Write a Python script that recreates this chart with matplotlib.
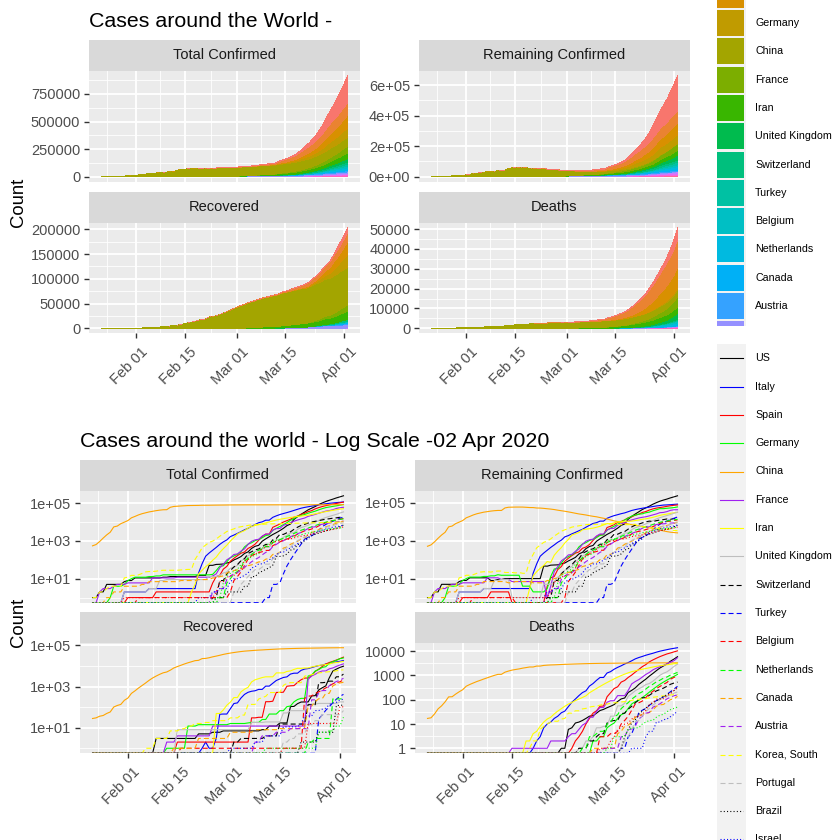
import datetime as dt
import numpy as np
import matplotlib
matplotlib.use("Agg")
import matplotlib.pyplot as plt
import matplotlib.dates as mdates
from matplotlib.patches import Rectangle
from matplotlib.ticker import FixedLocator, FuncFormatter, NullFormatter
from matplotlib.transforms import ScaledTranslation, blended_transform_factory

plt.rcParams['font.family'] = ['Liberation Sans', 'DejaVu Sans']
plt.rcParams['lines.scale_dashes'] = False

# ---------------- data (daily, 2020-01-22 .. 2020-04-02; lists end on Apr 2, earlier days are 0) -------------
START = dt.datetime(2020, 1, 22)
N_DAYS = 72

countries = ["US", "Italy", "Spain", "Germany", "China", "France", "Iran", "United Kingdom",
             "Switzerland", "Turkey", "Belgium", "Netherlands", "Canada", "Austria",
             "Korea, South", "Portugal", "Brazil", "Israel", "Sweden", "Norway"]

US_conf = [1, 1, 2, 2, 5, 5, 5, 5, 5, 7] + [8, 8, 11, 11, 11, 11, 11, 11, 11, 11, 12, 12, 13, 13, 13, 13, 13, 13, 13, 13, 15, 15, 15, 51, 51, 57, 58, 60, 68] + [74, 98, 118, 149, 217, 262, 402, 518, 583, 959, 1281, 1663, 2179, 2727, 3499, 4632, 6421, 7783, 13677, 19100, 25489, 33276, 43847, 53740, 65778, 83836, 101657, 121478, 140886, 161807, 188172] + [213372, 243453]
US_rec = [3]*12 + [5, 5, 5, 5, 6, 6, 6, 7, 7] + [7]*9 + [8, 8, 12, 12, 12, 17, 17, 17, 106, 108, 147, 176, 178, 178, 348, 361, 681, 869, 1072, 2665, 5644, 7024] + [8474, 9707]
US_death = [1] + [1, 6, 7, 11, 12, 14, 17, 21, 22, 28, 36, 40, 47, 54, 63, 85, 108, 118, 200, 244, 307, 427, 552, 706, 942, 1209, 1581, 2026, 2467, 2978, 3873] + [4757, 5926]

Italy_conf = [2] + [2]*6 + [3]*14 + [20, 62, 155, 229, 322, 453, 655, 888, 1128] + [1694, 2036, 2502, 3089, 3858, 4636, 5883, 7375, 9172, 10149, 12462, 12462, 17660, 21157, 24747, 27980, 31506, 35713, 41035, 47021, 53578, 59138, 63927, 69176, 74386, 80589, 86498, 92472, 97689, 101739, 105792] + [110574, 115242]
Italy_rec = [1, 2, 1, 1, 3, 45, 46, 46] + [83, 149, 160, 276, 414, 523, 589, 622, 724, 724, 1045, 1045, 1439, 1966, 2335, 2749, 2941, 4025, 4440, 4440, 6072, 7024, 7432, 8326, 9362, 10361, 10950, 12384, 13030, 14620, 15729] + [16847, 18278]
Italy_death = [1, 2, 3, 7, 10, 12, 17, 21, 29] + [34, 52, 79, 107, 148, 197, 233, 366, 463, 631, 827, 827, 1266, 1441, 1809, 2158, 2503, 2978, 3405, 4032, 4825, 5476, 6077, 6820, 7503, 8215, 9134, 10023, 10779, 11591, 12428] + [13155, 13915]

Spain_conf = [1]*8 + [2]*16 + [6, 13, 15, 32, 45] + [84, 120, 165, 222, 259, 400, 500, 673, 1073, 1695, 2277, 2277, 5232, 6391, 7798, 9942, 11748, 13910, 17963, 20410, 25374, 28768, 35136, 39885, 49515, 57786, 65719, 73235, 80110, 87956, 95923] + [104118, 112065]
Spain_rec = [2]*15 + [2, 2, 2, 2, 2, 2, 30, 30, 32, 32, 183, 183, 193, 517, 517, 530, 1028, 1081, 1107, 1588, 2125, 2575, 2575, 3355, 5367, 7015, 9357, 12285, 14709, 16780, 19259] + [22647, 26743]
Spain_death = [1, 2, 3, 5, 10, 17, 28, 35, 54, 55, 133, 195, 289, 342, 533, 623, 830, 1043, 1375, 1772, 2311, 2808, 3647, 4365, 5138, 5982, 6803, 7716, 8464] + [9387, 10348]

Germany_conf = [1, 4, 4, 4, 5] + [8, 10, 12, 12, 12, 12, 13, 13, 14, 14] + [16]*14 + [17, 27, 46, 48, 79] + [130, 159, 196, 262, 482, 670, 799, 1040, 1176, 1457, 1908, 2078, 3675, 4585, 5795, 7272, 9257, 12327, 15320, 19848, 22213, 24873, 29056, 32986, 37323, 43938, 50871, 57695, 62095, 66885, 71808] + [77872, 84794]
Germany_rec = [1]*6 + [12]*3 + [14]*9 + [16]*5 + [17, 18, 18, 18, 25, 25, 46, 46, 46, 67, 67, 105, 113, 180, 233, 266, 266, 3243, 3547, 5673, 6658, 8481, 9211, 13500, 16100, 18700] + [22440, 24575]
Germany_death = [2, 2, 3, 3, 7, 9, 11, 17, 24, 28, 44, 67, 84, 94, 123, 157, 206, 267, 342, 433, 533, 645, 775] + [920, 1107]

China_conf = [548, 643, 920, 1406, 2075, 2877, 5509, 6087, 8141, 9802] + [11891, 16630, 19716, 23707, 27440, 30587, 34110, 36814, 39829, 42354, 44386, 44759, 59895, 66358, 68413, 70513, 72434, 74211, 74619, 75077, 75550, 77001, 77022, 77241, 77754, 78166, 78600, 78928, 79356] + [79932, 80136, 80261, 80386, 80537, 80690, 80770, 80823, 80860, 80887, 80921, 80932, 80945, 80977, 81003, 81033, 81058, 81102, 81156, 81250, 81305, 81435, 81498, 81591, 81661, 81782, 81897, 81999, 82122, 82198, 82279] + [82361, 82432]
China_rec = [28, 30, 36, 39, 49, 58, 101, 120, 135, 214] + [275, 463, 614, 843, 1115, 1476, 1998, 2595, 3218, 3917, 4635, 5079, 6213, 7973, 9294, 10748, 12455, 14199, 15952, 18002, 18693, 22687, 23170, 24990, 27650, 30053, 32898, 36291, 39279] + [42118, 44810, 47404, 49955, 52240, 53888, 55478, 57320, 58735, 59882, 61475, 62793, 64111, 65541, 66911, 67749, 68679, 69601, 70420, 71150, 71740, 72244, 72703, 73159, 73650, 74051, 74600, 75100, 75582, 75923, 76206] + [76405, 76565]
China_death = [17, 18, 26, 42, 56, 82, 131, 133, 171, 213] + [259, 361, 425, 490, 562, 632, 717, 804, 904, 1011, 1111, 1116, 1368, 1520, 1662, 1765, 1863, 2002, 2114, 2236, 2236, 2441, 2443, 2593, 2663, 2715, 2744, 2788, 2835] + [2870, 2912, 2945, 2981, 3013, 3042, 3070, 3097, 3119, 3136, 3158, 3169, 3176, 3189, 3199, 3213, 3226, 3237, 3245, 3249, 3253, 3259, 3270, 3277, 3281, 3287, 3291, 3296, 3299, 3304, 3308] + [3309, 3316]

France_conf = [2, 3, 3, 3, 4, 5, 5, 5] + [6]*7 + [11]*7 + [12]*10 + [14, 18, 38, 57, 100] + [130, 191, 204, 288, 380, 656, 957, 1134, 1217, 1792, 2290, 2290, 3678, 4487, 4523, 6668, 7699, 9105, 10947, 12726, 14431, 16176, 19856, 22304, 25233, 29155, 32964, 37575, 40174, 44550, 52128] + [56989, 59929]
France_rec = [2]*3 + [4]*10 + [12]*5 + [12]*22 + [2206, 3250, 3907, 4955, 5707, 5724, 7226, 7964, 9513] + [11053, 12548]
France_death = [1]*11 + [2]*4 + [2, 3, 4, 4, 6, 9, 11, 19, 19, 33, 48, 48, 79, 91, 91, 148, 148, 148, 243, 450, 562, 674, 860, 1100, 1331, 1696, 1995, 2314, 2606, 3024, 3523] + [4043, 5398]

Iran_conf = [2, 5, 18, 28, 43, 61, 95, 139, 245, 388, 593] + [978, 1501, 2336, 2922, 3513, 4747, 5823, 6566, 7161, 8042, 9000, 10075, 11364, 12729, 13938, 14991, 16169, 17361, 18407, 19644, 20610, 21638, 23049, 24811, 27017, 29406, 32332, 35408, 38309, 41495, 44605] + [47593, 50468]
Iran_rec = [49, 49, 73, 123] + [175, 291, 291, 552, 739, 913, 1669, 2134, 2394, 2731, 2959, 2959, 2959, 4590, 4590, 4590, 5389, 5710, 6745, 7635, 7635, 7931, 7931, 8913, 9625, 10457, 11133, 11679, 12391, 13911, 14656] + [15473, 16711]
Iran_death = [2, 2, 4, 5, 8, 12, 16, 19, 26, 34, 43] + [54, 66, 77, 92, 107, 124, 145, 194, 237, 291, 354, 429, 514, 611, 724, 853, 988, 1135, 1284, 1433, 1556, 1685, 1812, 1934, 2077, 2234, 2378, 2517, 2640, 2757, 2898] + [3036, 3160]

UK_conf = [2] + [2]*6 + [3]*3 + [8]*2 + [9]*12 + [13]*3 + [15, 20, 23] + [36, 40, 51, 86, 116, 164, 207, 274, 322, 384, 459, 459, 802, 1144, 1145, 1551, 1960, 2642, 2716, 4014, 5067, 5745, 6726, 8164, 9640, 11812, 14745, 17312, 19780, 22453, 25481] + [29865, 34173]
UK_rec = [8]*15 + [8]*6 + [18]*4 + [19]*5 + [52]*2 + [67]*5 + [140]*3 + [151]*6 + [179, 179]
UK_death = [1, 1, 2, 2, 3, 7, 7, 8, 8, 21, 21, 56, 56, 72, 138, 178, 234, 282, 336, 423, 466, 580, 761, 1021, 1231, 1411, 1793] + [2357, 2926]

Swiss_conf = [1, 1, 8, 8, 18] + [27, 42, 56, 90, 114, 214, 268, 337, 374, 491, 652, 652, 1139, 1359, 2200, 2200, 2700, 3028, 4075, 5294, 6575, 7474, 8795, 9877, 10897, 11811, 12928, 14076, 14829, 15922, 16605] + [17768, 18827]
Swiss_rec = [2]*2 + [3]*7 + [4]*4 + [15]*8 + [131]*3 + [1530]*2 + [1595] + [1823]*2 + [2967] + [2967, 4013]
Swiss_death = [1, 1, 1, 2, 2, 3, 4, 4, 11, 13, 14, 14, 27, 28, 41, 54, 75, 98, 120, 122, 153, 191, 231, 264, 300, 359, 433] + [488, 536]

Turkey_conf = [1, 1, 5, 5, 6, 18, 47, 98, 192, 359, 670, 1236, 1529, 1872, 2433, 3629, 5698, 7402, 9217, 10827, 13531] + [15679, 18135]
Turkey_rec = [26, 42, 70, 105, 162, 243] + [333, 415]
Turkey_death = [1, 1, 3, 4, 9, 30, 37, 44, 59, 75, 92, 108, 131, 168, 214] + [277, 356]

Belgium_conf = [1]*26 + [2, 8, 13, 23, 50, 109, 169, 200, 239, 267, 314, 314, 559, 689, 886, 1058, 1243, 1486, 1795, 2257, 2815, 3401, 3743, 4269, 4937, 6235, 7284, 9134, 10836, 11899, 12775] + [13964, 15348]
Belgium_rec = [1]*14 + [1]*21 + [263, 340, 350, 461, 547, 675, 858, 1063, 1359, 1527] + [1696, 2132]
Belgium_death = [3, 3, 3, 4, 4, 5, 10, 14, 21, 37, 67, 75, 88, 122, 178, 220, 289, 353, 431, 513, 705] + [828, 1011]

Neth_conf = [1, 1, 6] + [10, 18, 24, 38, 82, 128, 188, 265, 321, 382, 503, 503, 806, 962, 1138, 1416, 1711, 2058, 2467, 3003, 3640, 4216, 4764, 5580, 6438, 7468, 8647, 9819, 10930, 11817, 12667] + [13696, 14788]
Neth_rec = [2, 2, 3, 3, 3, 3, 3, 250, 250] + [250, 260]
Neth_death = [1, 1, 3, 3, 4, 5, 5, 10, 12, 20, 24, 43, 58, 76, 106, 136, 179, 213, 276, 356, 434, 546, 639, 771, 864, 1039] + [1173, 1339]

Canada_conf = [1, 1, 2, 2, 2, 4] + [4]*4 + [5]*2 + [7]*9 + [8]*5 + [9]*4 + [11, 11, 13, 14, 20] + [24, 27, 30, 33, 37, 49, 54, 64, 77, 79, 108, 117, 193, 198, 252, 415, 478, 657, 800, 943, 1277, 1469, 2088, 2790, 3251, 4042, 4682, 5576, 6280, 7398, 8527] + [9560, 11284]
Canada_rec = [1]*7 + [3]*9 + [6]*7 + [8]*7 + [9]*6 + [10]*2 + [110, 112, 184, 256, 256, 466, 466, 1071, 1334] + [1492, 1610]
Canada_death = [1]*7 + [4, 5, 8, 9, 12, 19, 21, 25, 26, 30, 38, 54, 61, 64, 80, 101] + [109, 139]

Austria_conf = [2, 2, 3, 3, 9] + [14, 18, 21, 29, 41, 55, 79, 104, 131, 182, 246, 302, 504, 655, 860, 1018, 1332, 1646, 2013, 2388, 2814, 3582, 4474, 5283, 5588, 6909, 7657, 8271, 8788, 9618, 10180] + [10711, 11129]
Austria_rec = [2, 2, 4, 4, 4, 4, 6, 6, 6, 6, 9, 9, 9, 9, 9, 9, 225, 225, 479, 636, 636, 1095, 1436, 1749] + [2022, 2507]
Austria_death = [1, 1, 1, 1, 1, 3, 3, 6, 6, 8, 16, 21, 28, 30, 49, 58, 68, 86, 108, 128] + [146, 158]

Korea_conf = [1, 1, 2, 2, 3, 4, 4, 4, 4, 11] + [12, 15, 15, 16, 19, 23, 24, 24, 25, 27, 28, 28, 28, 28, 28, 29, 30, 31, 31, 104, 204, 433, 602, 833, 977, 1261, 1766, 2337, 3150] + [3736, 4335, 5186, 5621, 6088, 6593, 7041, 7314, 7478, 7513, 7755, 7869, 7979, 8086, 8162, 8236, 8320, 8413, 8565, 8652, 8799, 8897, 8961, 9037, 9137, 9241, 9332, 9478, 9583, 9661, 9786] + [9887, 9976]
Korea_rec = [1, 1, 1, 3, 3, 3, 3, 7, 7, 7, 9, 9, 12, 12, 16, 16, 16, 18, 18, 22, 22, 22, 22, 22] + [30, 30, 30, 41, 41, 135, 135, 135, 247, 288, 333, 510, 510, 510, 510, 1137, 1407, 1540, 1540, 1540, 1540, 3166, 3507, 3730, 4144, 4528, 4811, 5033, 5228, 5408, 5828] + [6325, 6463]
Korea_death = [1, 2, 2, 6, 8, 10, 12, 13, 13, 16] + [17, 28, 28, 35, 35, 42, 44, 50, 53, 54, 60, 66, 66, 72, 75, 75, 81, 84, 91, 94, 102, 104, 111, 111, 120, 126, 131, 139, 144, 152, 158] + [162, 165]

Portugal_conf = [2, 2, 5, 8, 13, 20, 30, 30, 41, 59, 59, 112, 169, 245, 331, 448, 448, 785, 1020, 1280, 1600, 2060, 2362, 2995, 3544, 4268, 5170, 5962, 6408, 7443] + [8251, 9034]
Portugal_rec = [2, 2, 3, 3, 5, 5, 5, 14, 14, 22, 22, 43, 43, 43, 43, 43] + [43, 68]
Portugal_death = [1, 2, 3, 6, 12, 14, 23, 33, 43, 60, 76, 100, 119, 140, 160] + [187, 209]

Brazil_conf = [1, 1, 1, 2] + [2, 2, 2, 2, 4, 4, 13, 13, 20, 25, 31, 38, 52, 151, 151, 162, 200, 321, 372, 621, 793, 1021, 1546, 1924, 2247, 2554, 2985, 3417, 3904, 4256, 4579] + [5717, 6836]
Brazil_rec = [2, 2, 2, 2, 2, 6, 6, 6, 6, 6, 120] + [120, 127]
Brazil_death = [1, 3, 6, 11, 15, 25, 34, 46, 59, 77, 92, 111, 136, 159, 201] + [240, 324]

Israel_conf = [1, 1, 1, 1, 2, 2, 3, 3, 3] + [7, 10, 10, 12, 15, 20, 37, 43, 61, 61, 75, 100, 126, 178, 250, 255, 337, 427, 529, 712, 883, 1071, 1238, 2369, 2693, 3035, 3619, 4247, 4695, 5358, 5591] + [6092, 6857]
Israel_rec = [1, 1, 1, 1, 1, 1, 1, 2, 2, 2, 4, 4, 4, 4, 4, 11, 11, 11, 11, 11, 15, 37, 37, 37, 68, 68, 79, 89, 132, 161, 171] + [224, 241]
Israel_death = [1, 1, 1, 1, 3, 5, 5, 12, 12, 15, 16, 20] + [25, 34]

Sweden_conf = [1] + [1]*25 + [2, 7, 7, 12] + [14, 15, 21, 35, 94, 101, 161, 203, 248, 355, 500, 599, 814, 961, 1022, 1103, 1190, 1279, 1439, 1639, 1763, 1934, 2046, 2286, 2526, 2840, 3069, 3447, 3700, 4028, 4435] + [4947, 5568]
Sweden_rec = [1]*7 + [16]*9 + [103, 103]
Sweden_death = [1, 1, 1, 2, 3, 6, 7, 10, 11, 16, 20, 21, 25, 36, 62, 77, 105, 105, 110, 146, 180] + [239, 308]

Norway_conf = [1, 1, 6, 15] + [19, 25, 32, 56, 87, 108, 147, 176, 205, 400, 598, 702, 996, 1090, 1221, 1333, 1463, 1550, 1746, 1914, 2118, 2385, 2621, 2863, 3084, 3369, 3755, 4015, 4284, 4445, 4641] + [4863, 5147]
Norway_rec = [1]*15 + [6, 6, 6, 7, 7, 12] + [12, 32]
Norway_death = [1, 1, 3, 3, 3, 3, 6, 7, 7, 7, 10, 12, 14, 14, 19, 23, 25, 32, 39] + [44, 50]

conf_lists = [US_conf, Italy_conf, Spain_conf, Germany_conf, China_conf, France_conf, Iran_conf, UK_conf,
              Swiss_conf, Turkey_conf, Belgium_conf, Neth_conf, Canada_conf, Austria_conf, Korea_conf,
              Portugal_conf, Brazil_conf, Israel_conf, Sweden_conf, Norway_conf]
rec_lists = [US_rec, Italy_rec, Spain_rec, Germany_rec, China_rec, France_rec, Iran_rec, UK_rec,
             Swiss_rec, Turkey_rec, Belgium_rec, Neth_rec, Canada_rec, Austria_rec, Korea_rec,
             Portugal_rec, Brazil_rec, Israel_rec, Sweden_rec, Norway_rec]
death_lists = [US_death, Italy_death, Spain_death, Germany_death, China_death, France_death, Iran_death, UK_death,
               Swiss_death, Turkey_death, Belgium_death, Neth_death, Canada_death, Austria_death, Korea_death,
               Portugal_death, Brazil_death, Israel_death, Sweden_death, Norway_death]

facets = ["Total Confirmed", "Remaining Confirmed", "Recovered", "Deaths"]


def full(tail):
    tail = list(tail)[-N_DAYS:]
    return np.array([0] * (N_DAYS - len(tail)) + tail, dtype=float)


conf = [full(v) for v in conf_lists]
rec = [full(v) for v in rec_lists]
death = [full(v) for v in death_lists]
remain = [c - r - d for c, r, d in zip(conf, rec, death)]
metric = {"Total Confirmed": conf, "Remaining Confirmed": remain, "Recovered": rec, "Deaths": death}

dates = [START + dt.timedelta(days=i) for i in range(N_DAYS)]
xnum = mdates.date2num(dates)


# ---------------- styling helpers ----------------
def hcl_rgb(h, c=100.0, l=65.0):
    hr = np.deg2rad(h)
    U, V = c * np.cos(hr), c * np.sin(hr)
    Y = 100.0 * ((l + 16) / 116.0) ** 3
    xn, yn, zn = 95.047, 100.0, 108.883
    t = xn + 15 * yn + 3 * zn
    un, vn = 4 * xn / t, 9 * yn / t
    u = U / (13 * l) + un
    v = V / (13 * l) + vn
    X = 9.0 * Y * u / (4 * v)
    Z = -X / 3 - 5 * Y + 3 * Y / v
    X, Y, Z = X / 100, Y / 100, Z / 100
    r = 3.240479 * X - 1.537150 * Y - 0.498535 * Z
    g = -0.969256 * X + 1.875992 * Y + 0.041556 * Z
    b = 0.055648 * X - 0.204043 * Y + 1.057311 * Z

    def gam(q):
        return 12.92 * q if q <= 0.0031308 else 1.055 * q ** (1 / 2.4) - 0.055
    return tuple(min(1.0, max(0.0, gam(q))) for q in (r, g, b))


n = len(countries)
fill_colors = [hcl_rgb(15 + 360.0 * i / n) for i in range(n)]
line_palette = ["black", "#0000FF", "#FF0000", "#00FF00", "#FFA500", "#A020F0", "#FFFF00", "#BEBEBE"]
dash_styles = ["-", (0, (3.6, 2.2)), (0, (0.75, 1.6))]
line_colors = [line_palette[i % 8] for i in range(n)]
line_styles = [dash_styles[i // 8] for i in range(n)]

W = H = 840
fig = plt.figure(figsize=(8.4, 8.4), dpi=100)
fig.patch.set_facecolor("white")


def px_axes(x0, y0, x1, y1):
    return fig.add_axes([x0 / W, 1 - y1 / H, (x1 - x0) / W, (y1 - y0) / H])


span = xnum[-1] - xnum[0]
XLIM = (xnum[0] - 0.05 * span, xnum[-1] + 0.05 * span)
bounds = mdates.date2num([dt.datetime(2020, 1, 15), dt.datetime(2020, 2, 1), dt.datetime(2020, 2, 15),
                          dt.datetime(2020, 3, 1), dt.datetime(2020, 3, 15), dt.datetime(2020, 4, 1),
                          dt.datetime(2020, 4, 15)])
x_major = [b for b in bounds if XLIM[0] <= b <= XLIM[1]]
x_minor = [(a + b) / 2 for a, b in zip(bounds[:-1], bounds[1:])]

TICK_COL = "#333333"
LAB_COL = "#4D4D4D"
FS_TICK = 10.5


def make_panel(title, x0, y0, x1, y1, strip_top, bottom_row):
    sax = px_axes(x0, strip_top, x1, y0)
    sax.set_facecolor("#D9D9D9")
    sax.set_xticks([]); sax.set_yticks([])
    for s in sax.spines.values():
        s.set_visible(False)
    sax.text(0.5, 0.5, title, transform=sax.transAxes, ha="center", va="center",
             fontsize=FS_TICK, color="#1A1A1A")
    ax = px_axes(x0, y0, x1, y1)
    ax.set_facecolor("#EBEBEB")
    for s in ax.spines.values():
        s.set_visible(False)
    ax.set_xlim(*XLIM)
    ax.xaxis.set_major_locator(FixedLocator(x_major))
    ax.xaxis.set_minor_locator(FixedLocator(x_minor))
    ax.xaxis.set_major_formatter(NullFormatter())
    ax.grid(which="major", color="white", linewidth=1.3)
    ax.grid(which="minor", color="white", linewidth=0.6)
    ax.set_axisbelow(True)
    ax.tick_params(axis="both", which="minor", length=0)
    ax.tick_params(axis="y", which="major", length=3.3, width=1.0, color=TICK_COL,
                   labelsize=FS_TICK, labelcolor=LAB_COL, pad=3.0)
    if bottom_row:
        ax.tick_params(axis="x", which="major", length=3.3, width=1.0, color=TICK_COL, labelbottom=False)
        tr = blended_transform_factory(ax.transData, ax.transAxes) + \
            ScaledTranslation(5 / 100, -11.4 / 100, fig.dpi_scale_trans)
        for xt in x_major:
            ax.text(xt, 0, mdates.num2date(xt).strftime("%b %d"), transform=tr, rotation=45,
                    ha="right", va="top", rotation_mode="anchor", fontsize=FS_TICK, color=LAB_COL)
    else:
        ax.tick_params(axis="x", which="major", length=0, labelbottom=False)
    return ax


# ---------------- top plot: stacked areas ----------------
lin_ticks = {
    "Total Confirmed": ([0, 250000, 500000, 750000], lambda v, p: f"{int(v)}"),
    "Remaining Confirmed": ([0, 200000, 400000, 600000], lambda v, p: f"{v:.0e}"),
    "Recovered": ([0, 50000, 100000, 150000, 200000], lambda v, p: f"{int(v)}"),
    "Deaths": ([0, 10000, 20000, 30000, 40000, 50000], lambda v, p: f"{int(v)}"),
}
top_layout = [("Total Confirmed", 89, 70.7, 360, 181.7, 40, False),
              ("Remaining Confirmed", 419, 70.7, 690, 181.7, 40, False),
              ("Recovered", 89, 222.7, 360, 333.3, 192, True),
              ("Deaths", 419, 222.7, 690, 333.3, 192, True)]
for name, x0, y0, x1, y1, st, br in top_layout:
    ax = make_panel(name, x0, y0, x1, y1, st, br)
    series = metric[name]
    ax.stackplot(xnum, *series[::-1], colors=fill_colors[::-1], linewidth=0, antialiased=False)
    tot = np.sum(series, axis=0).max()
    ax.set_ylim(-0.05 * tot, 1.05 * tot)
    ticks, fmt = lin_ticks[name]
    step = ticks[1] - ticks[0]
    ax.yaxis.set_major_locator(FixedLocator(ticks))
    ax.yaxis.set_minor_locator(FixedLocator([t + step / 2 for t in ticks]))
    ax.yaxis.set_major_formatter(FuncFormatter(fmt))

fig.text(89 / W, 1 - 27 / H, "Cases around the World - ", fontsize=15.4, va="baseline", ha="left")
fig.text(18.4 / W, 1 - 202 / H, "Count", rotation=90, ha="center", va="center", fontsize=13.3)

# ---------------- bottom plot: log lines ----------------
log_ticks = {
    "Total Confirmed": ([1e1, 1e3, 1e5], [1e0, 1e2, 1e4, 1e6], lambda v, p: f"{v:.0e}"),
    "Remaining Confirmed": ([1e1, 1e3, 1e5], [1e0, 1e2, 1e4, 1e6], lambda v, p: f"{v:.0e}"),
    "Recovered": ([1e1, 1e3, 1e5], [1e0, 1e2, 1e4, 1e6], lambda v, p: f"{v:.0e}"),
    "Deaths": ([1, 10, 100, 1000, 10000], [10 ** 0.5, 10 ** 1.5, 10 ** 2.5, 10 ** 3.5, 10 ** 4.5],
               lambda v, p: f"{int(round(v))}"),
}
bot_layout = [("Total Confirmed", 80, 490.7, 356, 602.7, 460, False),
              ("Remaining Confirmed", 415, 490.7, 690, 602.7, 460, False),
              ("Recovered", 80, 642.7, 356, 753.3, 611.7, True),
              ("Deaths", 415, 642.7, 690, 753.3, 611.7, True)]
for name, x0, y0, x1, y1, st, br in bot_layout:
    ax = make_panel(name, x0, y0, x1, y1, st, br)
    series = metric[name]
    allv = np.concatenate(series)
    pos = allv[allv > 0]
    lo, hi = np.log10(pos.min()), np.log10(pos.max())
    padl = 0.05 * (hi - lo)
    ylo, yhi = 10 ** (lo - padl), 10 ** (hi + padl)
    ax.set_yscale("log")
    for i, s in enumerate(series):
        v = np.where(s > 0, s, ylo)
        ax.plot(xnum, v, color=line_colors[i], linestyle=line_styles[i], linewidth=0.8)
    ax.set_ylim(ylo, yhi)
    majors, minors, fmt = log_ticks[name]
    ax.yaxis.set_major_locator(FixedLocator(majors))
    ax.yaxis.set_minor_locator(FixedLocator(minors))
    ax.yaxis.set_major_formatter(FuncFormatter(fmt))
    ax.yaxis.set_minor_formatter(NullFormatter())
    ax.tick_params(axis="both", which="minor", length=0)

fig.text(80 / W, 1 - 446.7 / H, "Cases around the world - Log Scale -02 Apr 2020", fontsize=15.4,
         va="baseline", ha="left")
fig.text(18.4 / W, 1 - 622 / H, "Count", rotation=90, ha="center", va="center", fontsize=13.3)

# ---------------- legends ----------------
PITCH = 28.3
FS_LEG = 7.7
lg = px_axes(700, 0, 840, 326)
lg.set_xlim(700, 840); lg.set_ylim(326, 0); lg.axis("off")
lg.add_patch(Rectangle((716.5, -200), 29, 700, color="#F2F2F2", lw=0))
c0 = 23 - 3 * PITCH
for i, name in enumerate(countries):
    c = c0 + i * PITCH
    lg.add_patch(Rectangle((717.3, c - 13), 27, 26, facecolor=fill_colors[i], lw=0))
    if 8 <= c <= 318:   # only labels that are visible inside the clipped legend area
        lg.text(755, c, name, ha="left", va="center", fontsize=FS_LEG, color="black", clip_on=True)

bl = px_axes(700, 326, 840, 840)
bl.set_xlim(700, 840); bl.set_ylim(840, 326); bl.axis("off")
bl.add_patch(Rectangle((700, 326), 140, 520, color="white", lw=0))
bl.add_patch(Rectangle((716.5, 344), 29, 520, color="#F2F2F2", lw=0))
c0 = 358.3
for i, name in enumerate(countries):
    c = c0 + i * PITCH
    bl.plot([720, 743], [c, c], color=line_colors[i], linestyle=line_styles[i], linewidth=0.8)
    if c <= 845:
        bl.text(755, c, name, ha="left", va="center", fontsize=FS_LEG, color="black", clip_on=True)

fig.savefig("out.png", dpi=100)
